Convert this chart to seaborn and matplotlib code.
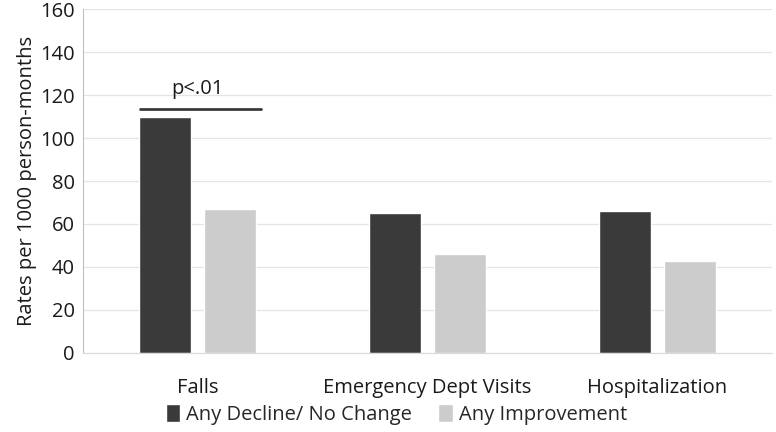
import pandas as pd
import seaborn as sns
import matplotlib.pyplot as plt

# Rates of falls / ED visits / hospitalization by change group

categorias = ['Falls', 'Emergency Dept Visits', 'Hospitalization']
grupos = ['Any Decline/ No Change', 'Any Improvement']
declive = [110, 65, 66]
mejora = [67, 46, 43]

df = pd.DataFrame({
    'categoria': categorias * 2,
    'grupo': [grupos[0]] * 3 + [grupos[1]] * 3,
    'tasa': declive + mejora,
})

sns.set_style('white')
plt.rcParams['font.family'] = ['Open Sans', 'DejaVu Sans']

fig, ax = plt.subplots(figsize=(7.76, 4.32), dpi=100)
fig.subplots_adjust(left=0.107, right=0.995, top=0.979, bottom=0.183)

sns.barplot(data=df, x='categoria', y='tasa', hue='grupo', hue_order=grupos,
            palette=['#3a3a3a', '#cccccc'], width=0.566, gap=0.2,
            saturation=1, ax=ax, legend=True)

ax.set_ylim(0, 160)
ax.set_yticks(range(0, 161, 20))
ax.set_xlim(-0.5, 2.5)
ax.yaxis.grid(True, color='#e4e4e4', linewidth=0.9)
ax.set_axisbelow(True)
for s in ['top', 'right']:
    ax.spines[s].set_visible(False)
ax.spines['left'].set_color('#bfbfbf')
ax.spines['bottom'].set_color('#d9d9d9')
ax.tick_params(axis='both', labelsize=14.5, colors='#1a1a1a', length=0, pad=6)
ax.tick_params(axis='x', pad=18)
ax.set_xlabel('')
ax.set_ylabel('Rates per 1000 person-months', fontsize=14.5, color='#1a1a1a',
              labelpad=2)

# significance marker over Falls
ax.plot([-0.25, 0.276], [113.5, 113.5], color='#3a3a3a', linewidth=2)
ax.text(0.0, 118, 'p<.01', ha='center', va='bottom', fontsize=14.5, color='#1a1a1a')

leg = ax.legend(loc='center', bbox_to_anchor=(0.455, -0.18), ncol=2,
                frameon=False, fontsize=14.5, handlelength=0.7, handleheight=1.0,
                columnspacing=1.3, handletextpad=0.3)

fig.savefig('out.png', dpi=100)
